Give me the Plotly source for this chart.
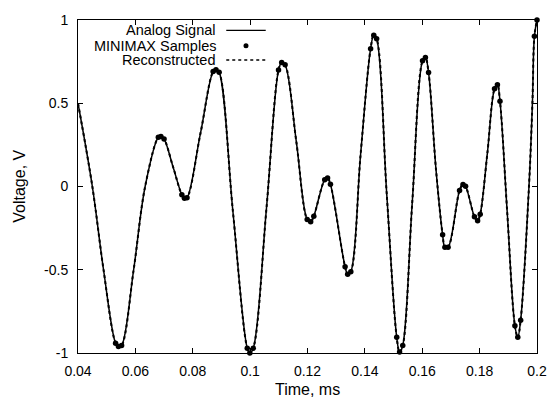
import plotly.graph_objects as go

# Analog signal: knots (time in ms, voltage in V)
analog_t = [0.0400, 0.0450, 0.0489, 0.0531, 0.0541, 0.0552, 0.0594, 0.0634,
            0.0680, 0.0689, 0.0700, 0.0731, 0.0762, 0.0771, 0.0780, 0.0827,
            0.0871, 0.0881, 0.0892, 0.0940, 0.0990, 0.0999, 0.1011, 0.1057,
            0.1099, 0.1110, 0.1122, 0.1161, 0.1199, 0.1211, 0.1222, 0.1260,
            0.1270, 0.1280, 0.1331, 0.1340, 0.1351, 0.1385, 0.1420, 0.1431,
            0.1441, 0.1476, 0.1511, 0.1521, 0.1532, 0.1565, 0.1601, 0.1611,
            0.1622, 0.1648, 0.1671, 0.1679, 0.1690, 0.1730, 0.1742, 0.1751,
            0.1782, 0.1793, 0.1802, 0.1827, 0.1852, 0.1862, 0.1871, 0.1896,
            0.1923, 0.1933, 0.1943, 0.1972, 0.1984, 0.1991, 0.2000]
analog_v = [0.500, 0.000, -0.500, -0.941, -0.961, -0.955, -0.500, 0.000,
            0.296, 0.301, 0.286, 0.120, -0.050, -0.070, -0.068, 0.320,
            0.690, 0.701, 0.686, -0.150, -0.971, -1.000, -0.971, -0.130,
            0.700, 0.745, 0.731, 0.270, -0.198, -0.212, -0.178, 0.041,
            0.051, 0.013, -0.482, -0.527, -0.512, 0.190, 0.828, 0.909,
            0.887, -0.040, -0.906, -0.994, -0.955, -0.100, 0.755, 0.775,
            0.684, 0.100, -0.290, -0.365, -0.365, -0.024, 0.012, 0.001,
            -0.182, -0.206, -0.166, 0.200, 0.587, 0.611, 0.512, -0.150,
            -0.837, -0.906, -0.803, 0.000, 0.500, 0.903, 1.000]

# Reconstructed signal: coincides with the analog curve in the picture
recon_t = list(analog_t)
recon_v = list(analog_v)

# MINIMAX samples (dots)
samples_t = [0.0531, 0.0541, 0.0552, 0.0680, 0.0689, 0.0700, 0.0762, 0.0771,
             0.0780, 0.0871, 0.0881, 0.0892, 0.0990, 0.0999, 0.1011, 0.1099,
             0.1110, 0.1122, 0.1199, 0.1211, 0.1222, 0.1260, 0.1270, 0.1280,
             0.1331, 0.1340, 0.1351, 0.1420, 0.1431, 0.1441, 0.1511, 0.1521,
             0.1532, 0.1601, 0.1611, 0.1622, 0.1671, 0.1679, 0.1690, 0.1730,
             0.1742, 0.1751, 0.1782, 0.1793, 0.1802, 0.1852, 0.1862, 0.1871,
             0.1923, 0.1933, 0.1943, 0.1991, 0.2000]
samples_v = [-0.941, -0.961, -0.955, 0.296, 0.301, 0.286, -0.050, -0.070,
             -0.068, 0.690, 0.701, 0.686, -0.971, -1.000, -0.971, 0.700,
             0.745, 0.731, -0.198, -0.212, -0.178, 0.041, 0.051, 0.013,
             -0.482, -0.527, -0.512, 0.828, 0.909, 0.887, -0.906, -0.994,
             -0.955, 0.755, 0.775, 0.684, -0.290, -0.365, -0.365, -0.024,
             0.012, 0.001, -0.182, -0.206, -0.166, 0.587, 0.611, 0.512,
             -0.837, -0.906, -0.803, 0.903, 1.000]

x_tickvals = [0.04, 0.06, 0.08, 0.10, 0.12, 0.14, 0.16, 0.18, 0.20]
x_ticktext = ["0.04", "0.06", "0.08", "0.1", "0.12", "0.14", "0.16", "0.18", "0.2"]
y_tickvals = [-1, -0.5, 0, 0.5, 1]
y_ticktext = ["-1", "-0.5", "0", "0.5", "1"]

legend_labels = ["Analog Signal", "MINIMAX Samples", "Reconstructed"]

FONT = "Liberation Sans, Arial, Helvetica, sans-serif"

fig = go.Figure()
fig.add_trace(go.Scatter(x=analog_t, y=analog_v, mode="lines",
                         line=dict(color="black", width=1.5, shape="spline"),
                         name=legend_labels[0], showlegend=False))
fig.add_trace(go.Scatter(x=recon_t, y=recon_v, mode="lines",
                         line=dict(color="black", width=2, dash="dot", shape="spline"),
                         name=legend_labels[2], showlegend=False))
fig.add_trace(go.Scatter(x=samples_t, y=samples_v, mode="markers",
                         marker=dict(color="black", size=5.5),
                         name=legend_labels[1], showlegend=False, cliponaxis=False))

axis_common = dict(showline=True, mirror="allticks", linecolor="black", linewidth=1,
                   ticks="inside", ticklen=5, tickwidth=1, tickcolor="black",
                   showgrid=False, zeroline=False,
                   tickfont=dict(family=FONT, size=14, color="black"))

fig.update_xaxes(range=[0.04, 0.2], tickvals=x_tickvals, ticktext=x_ticktext,
                 ticklabelstandoff=5, **axis_common)
fig.update_yaxes(range=[-1, 1], tickvals=y_tickvals, ticktext=y_ticktext,
                 ticklabelstandoff=6, **axis_common)

# Gnuplot-style key: right-aligned text followed by the sample glyph
rows_y = [0.969, 0.923, 0.880]
anns = []
for lab, yy in zip(legend_labels, rows_y):
    anns.append(dict(text=lab, xref="paper", yref="paper", x=0.302, y=yy,
                     xanchor="right", yanchor="middle", showarrow=False, borderpad=0,
                     font=dict(family=FONT, size=14.5, color="black")))
anns.append(dict(text="Time, ms", xref="paper", yref="paper", x=0.5, y=-0.077,
                 xanchor="center", yanchor="top", showarrow=False,
                 font=dict(family=FONT, size=16, color="black")))
anns.append(dict(text="Voltage, V", xref="paper", yref="paper", x=-0.128, y=0.5,
                 xanchor="center", yanchor="middle", textangle=-90, showarrow=False,
                 font=dict(family=FONT, size=16, color="black")))

shapes = [
    dict(type="line", xref="paper", yref="paper", x0=0.323, x1=0.409,
         y0=rows_y[0], y1=rows_y[0], line=dict(color="black", width=1.2)),
    dict(type="circle", xref="paper", yref="paper", xsizemode="pixel", ysizemode="pixel",
         xanchor=0.366, yanchor=rows_y[1], x0=-2.5, x1=2.5, y0=-2.5, y1=2.5,
         fillcolor="black", line=dict(color="black", width=0)),
    dict(type="line", xref="paper", yref="paper", x0=0.323, x1=0.409,
         y0=rows_y[2], y1=rows_y[2], line=dict(color="black", width=1.4, dash="dot")),
]

fig.update_layout(width=559, height=398, margin=dict(l=78, r=14, t=15, b=45),
                  paper_bgcolor="white", plot_bgcolor="white",
                  font=dict(family=FONT, size=14, color="black"),
                  annotations=anns, shapes=shapes, showlegend=False)

fig.write_html("out.html")
